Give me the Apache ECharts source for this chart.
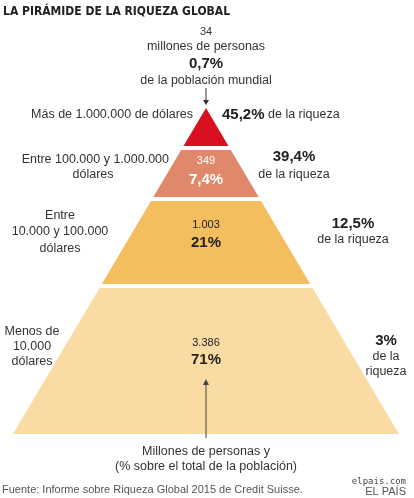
<!DOCTYPE html>
<html><head><meta charset="utf-8">
<script src="https://cdn.jsdelivr.net/npm/echarts@6/dist/echarts.min.js"></script>
<style>html,body{margin:0;padding:0;background:#fff}#c{width:414px;height:498px}</style>
</head><body><div id="c"></div>
<script>
var categories = ['Más de 1.000.000 de dólares','Entre 100.000 y 1.000.000 dólares','Entre 10.000 y 100.000 dólares','Menos de 10.000 dólares'];
var millions = ['34','349','1.003','3.386'];
var popPct = ['0,7%','7,4%','21%','71%'];
var wealthPct = ['45,2%','39,4%','12,5%','3%'];
var colors = ['#d7111f','#e0886c','#f4bd5e','#f9dba3'];
// layout (pixel space of the hidden axes)
var apex = [206,108], halfSlope = 0.592;
var bands = [[108,146],[150,197],[201,284],[288,434]];
var F = 'Liberation Sans, Arial, sans-serif';
var chart = echarts.init(document.getElementById('c'));
var layerData = bands.map(function(b,i){return [i,b[0],b[1]];});
function T(x,y,t,o){o=o||{};return {type:'text',z:100,x:x,y:y,style:Object.assign({text:t,fontFamily:F,fontSize:12.5,fill:'#333',align:'center',verticalAlign:'middle'},o)};}
var B={fontWeight:'bold',fontSize:15,fill:'#222'};
var gr=[
 T(3,12,'LA PIRÁMIDE DE LA RIQUEZA GLOBAL',{align:'left',fontWeight:'bold',fontSize:12,fill:'#222',fontFamily:'DejaVu Sans Condensed, Liberation Sans'}),
 T(206,32,millions[0],{fontSize:11}),
 T(206,47,'millones de personas'),
 T(206,64,popPct[0],B),
 T(206,81,'de la población mundial'),
 {type:'line',z:100,shape:{x1:206,y1:88,x2:206,y2:102},style:{stroke:'#333',lineWidth:1}},
 {type:'polygon',z:100,shape:{points:[[203,100],[209,100],[206,105]]},style:{fill:'#333'}},
 T(193,115,categories[0],{align:'right'}),
 T(222,115,'{b|'+wealthPct[0]+'} de la riqueza',{align:'left',rich:{b:{fontFamily:F,fontWeight:'bold',fontSize:15,fill:'#222'}}}),
 T(169,160,'Entre 100.000 y 1.000.000',{align:'right'}),
 T(93,175,'dólares'),
 T(206,161,millions[1],{fill:'#fff',fontSize:11}),
 T(206,180,popPct[1],{fontWeight:'bold',fontSize:15,fill:'#fff'}),
 T(294,157,wealthPct[1],B),
 T(294,175,'de la riqueza'),
 T(60,216,'Entre'),T(60,232,'10.000 y 100.000'),T(60,249,'dólares'),
 T(206,225,millions[2],{fontSize:11,fill:'#222'}),
 T(206,243,popPct[2],B),
 T(353,224,wealthPct[2],B),T(353,240,'de la riqueza'),
 T(32,332,'Menos de'),T(32,347,'10.000'),T(32,362,'dólares'),
 T(206,343,millions[3],{fontSize:11,fill:'#222'}),
 T(206,360,popPct[3],B),
 T(386,341,wealthPct[3],B),T(386,357,'de la'),T(386,372,'riqueza'),
 {type:'line',z:100,shape:{x1:206,y1:382,x2:206,y2:438},style:{stroke:'#444',lineWidth:1}},
 {type:'polygon',z:100,shape:{points:[[203,385],[209,385],[206,379]]},style:{fill:'#444'}},
 T(206,452,'Millones de personas y'),
 T(206,467,'(% sobre el total de la población)'),
 T(2,490,'Fuente: Informe sobre Riqueza Global 2015 de Credit Suisse.',{align:'left',fontSize:11,fill:'#555'}),
 T(406,482,'elpais.com',{align:'right',fontSize:9,fill:'#444',fontFamily:'DejaVu Sans Mono'}),
 T(406,492,'EL PAÍS',{align:'right',fontSize:11,fill:'#555'})
];
chart.setOption({
 animation:false,
 grid:{left:0,right:0,top:0,bottom:0},
 xAxis:{type:'value',min:0,max:414,show:false},
 yAxis:{type:'value',min:0,max:498,inverse:true,show:false},
 series:[{type:'custom',z:1,data:layerData,renderItem:function(p,api){
   var i=api.value(0),y0=api.value(1),y1=api.value(2);
   var h0=(y0-apex[1])*halfSlope,h1=(y1-apex[1])*halfSlope;
   var pts=[[apex[0]-h0,y0],[apex[0]+h0,y0],[apex[0]+h1,y1],[apex[0]-h1,y1]].map(function(q){return api.coord(q);});
   return {type:'polygon',shape:{points:pts},style:{fill:colors[i]}};
 }}],
 graphic:{elements:gr,z:100}
});
</script></body></html>
